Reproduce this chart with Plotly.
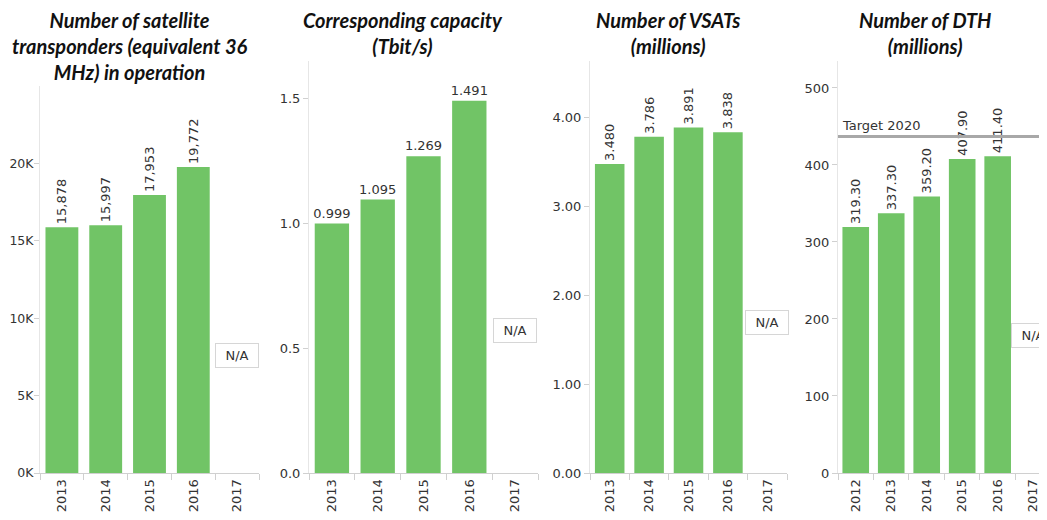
import plotly.graph_objects as go

# ---- data ----
years_a = ["2013", "2014", "2015", "2016", "2017"]
years_dth = ["2012", "2013", "2014", "2015", "2016", "2017"]
transponders = [15878, 15997, 17953, 19772]
capacity = [0.999, 1.095, 1.269, 1.491]
vsats = [3.480, 3.786, 3.891, 3.838]
dth = [319.30, 337.30, 359.20, 407.90, 411.40]
target_2020 = 437
target_label = "Target 2020"
na_label = "N/A"
titles = [
    "Number of satellite<br>transponders (equivalent 36<br>MHz) in operation",
    "Corresponding capacity<br>(Tbit/s)",
    "Number of VSATs<br>(millions)",
    "Number of DTH<br>(millions)",
]
k_ticks = [0, 5000, 10000, 15000, 20000]
k_text = ["0K", "5K", "10K", "15K", "20K"]

# The page body adds an 8px margin, so the figure is drawn 8px in from the
# top-left of the window; size it so it ends exactly at the window edges.
OFF = 8
W, H = 1047 - OFF, 520 - 2 * OFF
GREEN = "#71C466"
TXT = "#333333"
AX = "#D0D0D0"
FONT = "DejaVu Sans"
FS = 13

def px_x(v):
    return (v - OFF) / W

def px_y(v):
    return (H - (v - OFF)) / H

fig = go.Figure()

panels = [
    dict(x=years_a[:4], y=transponders, tmpl="%{y:,.0f}", angle=-90),
    dict(x=years_a[:4], y=capacity, tmpl="%{y:.3f}", angle=0),
    dict(x=years_a[:4], y=vsats, tmpl="%{y:.3f}", angle=-90),
    dict(x=years_dth[:5], y=dth, tmpl="%{y:.2f}", angle=-90),
]

for i, p in enumerate(panels):
    sfx = "" if i == 0 else str(i + 1)
    fig.add_trace(go.Bar(
        x=p["x"], y=p["y"], xaxis="x" + sfx, yaxis="y" + sfx,
        marker=dict(color=GREEN, line=dict(width=0)),
        texttemplate=p["tmpl"], textposition="outside", textangle=p["angle"],
        constraintext="none", cliponaxis=False,
        textfont=dict(family=FONT, size=FS, color=TXT),
        showlegend=False, hoverinfo="x+y",
    ))

# screen-pixel geometry (window coordinates)
bottom = 473
x_domains = [(40, 259), (309, 538), (590, 787), (838, 1047)]
tops = [86, 61, 61, 61]
x_ranges = [[-0.5, 4.5], [-0.5, 4.5], [-0.5, 4.5], [-0.5, 5.39]]
cats = [years_a, years_a, years_a, years_dth]
y_ranges = [[0, 25000], [0, 1.65], [0, 4.64], [0, 535]]

layout = dict(
    width=W, height=H,
    margin=dict(l=0, r=0, t=0, b=0, pad=0),
    paper_bgcolor="white", plot_bgcolor="white",
    bargap=0.25,
    font=dict(family=FONT, size=FS, color=TXT),
)

for i in range(4):
    sfx = "" if i == 0 else str(i + 1)
    layout["xaxis" + sfx] = dict(
        domain=[px_x(x_domains[i][0]), min(1.0, px_x(x_domains[i][1]))],
        anchor="y" + sfx, type="category", automargin=False,
        categoryorder="array", categoryarray=cats[i],
        range=x_ranges[i], tickmode="array", tickvals=cats[i],
        tickangle=-90, tickson="boundaries", ticks="outside", ticklen=6,
        tickcolor=AX, showline=True, linecolor=AX, linewidth=1,
        showgrid=False, zeroline=False, fixedrange=True,
        ticklabeloverflow="allow",
        tickfont=dict(family=FONT, size=FS, color=TXT),
    )
    ya = dict(
        domain=[px_y(bottom), px_y(tops[i])],
        anchor="x" + sfx, range=y_ranges[i], automargin=False,
        ticks="outside", ticklen=5, tickcolor=AX,
        showline=True, linecolor="#E6E6E6", linewidth=1,
        showgrid=False, zeroline=False, fixedrange=True,
        tickfont=dict(family=FONT, size=FS, color=TXT),
    )
    if i == 0:
        ya.update(tickmode="array", tickvals=k_ticks, ticktext=k_text,
                  ticklabelstandoff=-2,
                  tickfont=dict(family=FONT, size=12.5, color=TXT))
    elif i == 1:
        ya.update(dtick=0.5, tickformat=".1f")
    elif i == 2:
        ya.update(dtick=1, tickformat=".2f")
    else:
        ya.update(dtick=100)
    layout["yaxis" + sfx] = ya

fig.update_layout(**layout)

# Titles
title_centers = [130, 403, 668, 925]
for t, cx in zip(titles, title_centers):
    fig.add_annotation(
        xref="paper", yref="paper", x=px_x(cx), y=1,
        xanchor="center", yanchor="top", showarrow=False, align="center",
        yshift=2,
        text="<b><i>" + t + "</i></b>",
        font=dict(family="Lato", size=20, color="#111111"),
    )

# N/A boxes (placed in the 2017 slot, which has no data)
na_x = [4, 4, 4, 5]
na_y = [7600, 0.57, 1.70, 179]
for i in range(4):
    sfx = "" if i == 0 else str(i + 1)
    fig.add_annotation(
        xref="x" + sfx, yref="y" + sfx, x=na_x[i], y=na_y[i],
        text=na_label, showarrow=False, xanchor="center", yanchor="middle",
        width=36, height=17,
        bgcolor="white", bordercolor="#D6D6D6", borderwidth=1, borderpad=3,
        font=dict(family=FONT, size=FS, color=TXT),
    )

# Target line
fig.add_shape(
    type="line", xref="x4 domain", yref="y4", x0=0, x1=1,
    y0=target_2020, y1=target_2020,
    line=dict(color="#A8A8A8", width=3),
)
fig.add_annotation(
    xref="x4 domain", yref="y4", x=0.01, y=target_2020,
    text=target_label, showarrow=False, xanchor="left", yanchor="bottom",
    yshift=1, font=dict(family=FONT, size=FS, color=TXT),
)

fig.write_html("out.html")
